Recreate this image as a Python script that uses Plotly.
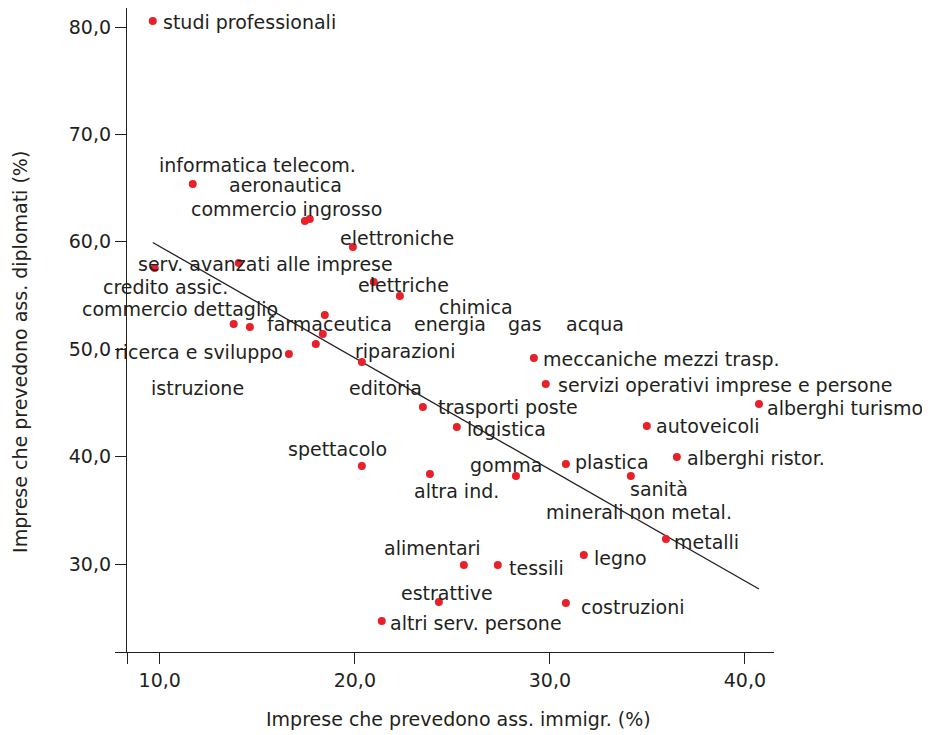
import plotly.graph_objects as go

# ---- data ----
point_names = [
    "studi professionali", "informatica telecom.", "aeronautica", "commercio ingrosso",
    "elettroniche", "credito assic.", "serv. avanzati alle imprese", "elettriche",
    "chimica", "commercio dettaglio", "farmaceutica", "energia", "gas", "acqua",
    "ricerca e sviluppo", "riparazioni", "trasporti poste", "spettacolo", "altra ind.",
    "meccaniche mezzi trasp.", "servizi operativi imprese e persone", "alberghi turismo",
    "logistica", "autoveicoli", "alberghi ristor.", "plastica", "gomma", "sanità",
    "metalli", "legno", "alimentari", "tessili", "estrattive", "costruzioni",
    "altri serv. persone",
]
immigr_pct = [
    9.64, 11.69, 17.69, 17.44, 19.90, 9.74, 14.05, 20.97, 22.31, 13.79, 14.62, 18.46,
    18.36, 18.00, 16.62, 20.36, 23.49, 20.36, 23.85, 29.18, 29.79, 40.72, 25.23, 34.97,
    36.51, 30.82, 28.26, 34.15, 35.95, 31.74, 25.59, 27.33, 24.31, 30.82, 21.38,
]
diplomati_pct = [
    80.56, 65.38, 62.12, 61.94, 59.52, 57.56, 58.03, 56.26, 54.95, 52.35, 52.07, 53.18,
    51.42, 50.48, 49.55, 48.81, 44.62, 39.12, 38.38, 49.18, 46.76, 44.90, 42.76, 42.85,
    39.96, 39.31, 38.19, 38.19, 32.33, 30.84, 29.91, 29.91, 26.46, 26.37, 24.69,
]

# labels as printed in the chart and where each one sits (data units)
label_texts = [
    "studi professionali", "informatica telecom.", "aeronautica", "commercio ingrosso",
    "elettroniche", "serv. avanzati alle imprese", "elettriche", "credito assic.",
    "chimica", "commercio dettaglio", "farmaceutica", "energia", "gas", "acqua",
    "ricerca e sviluppo", "riparazioni", "meccaniche mezzi trasp.", "istruzione",
    "editoria", "servizi operativi imprese e persone", "trasporti poste",
    "alberghi turismo", "logistica", "autoveicoli", "spettacolo", "gomma", "plastica",
    "alberghi ristor.", "altra ind.", "sanità", "minerali non metal.", "alimentari",
    "metalli", "legno", "tessili", "estrattive", "costruzioni", "altri serv. persone",
]
label_x = [
    10.10, 9.90, 13.49, 11.54, 19.18, 8.82, 20.10, 7.03, 24.26, 5.95, 15.44, 22.97,
    27.79, 30.77, 7.64, 19.95, 29.59, 9.49, 19.64, 30.36, 24.21, 41.10, 25.69, 35.38,
    16.51, 25.85, 31.23, 36.97, 22.97, 34.05, 29.74, 21.44, 36.31, 32.21, 27.85, 22.31,
    31.54, 21.74,
]
label_y = [
    80.47, 67.15, 65.29, 63.05, 60.35, 57.93, 55.98, 55.79, 53.93, 53.74, 52.35, 52.35,
    52.35, 52.35, 49.74, 49.83, 49.09, 46.39, 46.39, 46.67, 44.62, 44.53, 42.57, 42.85,
    40.71, 39.22, 39.50, 39.87, 36.80, 36.98, 34.84, 31.49, 32.05, 30.56, 29.63, 27.30,
    26.00, 24.51,
]

# regression line endpoints as drawn
trend_x = [9.64, 40.72]
trend_y = [59.94, 27.67]

x_range = [8.32, 41.49]
y_range = [21.81, 81.77]
x_ticks = [10, 20, 30, 40]
x_tick_labels = ["10,0", "20,0", "30,0", "40,0"]
y_ticks = [30, 40, 50, 60, 70, 80]
y_tick_labels = ["30,0", "40,0", "50,0", "60,0", "70,0", "80,0"]

x_title = "Imprese che prevedono ass. immigr. (%)"
y_title = "Imprese che prevedono ass. diplomati (%)"

# ---- styling ----
FONT = "DejaVu Sans"
FS = 19
INK = "#231f20"
RED = "#e8202a"


def to_paper_x(v):
    return (v - x_range[0]) / (x_range[1] - x_range[0])


def to_paper_y(v):
    return (v - y_range[0]) / (y_range[1] - y_range[0])


fig = go.Figure()
fig.add_trace(go.Scatter(
    x=trend_x, y=trend_y, mode="lines",
    line=dict(color=INK, width=1.3), hoverinfo="skip",
))
fig.add_trace(go.Scatter(
    x=immigr_pct, y=diplomati_pct, mode="markers", text=point_names,
    marker=dict(color=RED, size=8, line=dict(width=0)),
    cliponaxis=False,
))

annotations = []
for t, lx, ly in zip(label_texts, label_x, label_y):
    annotations.append(dict(
        x=to_paper_x(lx), y=to_paper_y(ly), xref="paper", yref="paper",
        text=t, showarrow=False,
        xanchor="left", yanchor="middle", borderpad=0,
        font=dict(family=FONT, size=FS, color=INK),
    ))
annotations.append(dict(
    x=0.5116, y=-0.104, xref="paper", yref="paper", text=x_title, showarrow=False,
    xanchor="center", yanchor="middle", font=dict(family=FONT, size=FS, color=INK),
))
annotations.append(dict(
    x=-0.1654, y=0.466, xref="paper", yref="paper", text=y_title, showarrow=False,
    textangle=-90, xanchor="center", yanchor="middle",
    font=dict(family=FONT, size=FS, color=INK),
))

axis_common = dict(
    showgrid=False, zeroline=False, showline=True, linecolor=INK, linewidth=1.3,
    ticks="outside", ticklen=11, tickwidth=1.3, tickcolor=INK,
    tickfont=dict(family=FONT, size=FS, color=INK), automargin=False,
)

fig.update_layout(
    width=922, height=727,
    margin=dict(l=119, r=156, t=0, b=83, pad=0),
    paper_bgcolor="white", plot_bgcolor="white",
    showlegend=False,
    annotations=annotations,
    xaxis=dict(range=x_range, tickvals=[x_range[0]] + x_ticks,
               ticktext=[""] + x_tick_labels, **axis_common),
    yaxis=dict(range=y_range, tickvals=[y_range[0]] + y_ticks,
               ticktext=[""] + y_tick_labels, **axis_common),
)

fig.write_html("out.html")
